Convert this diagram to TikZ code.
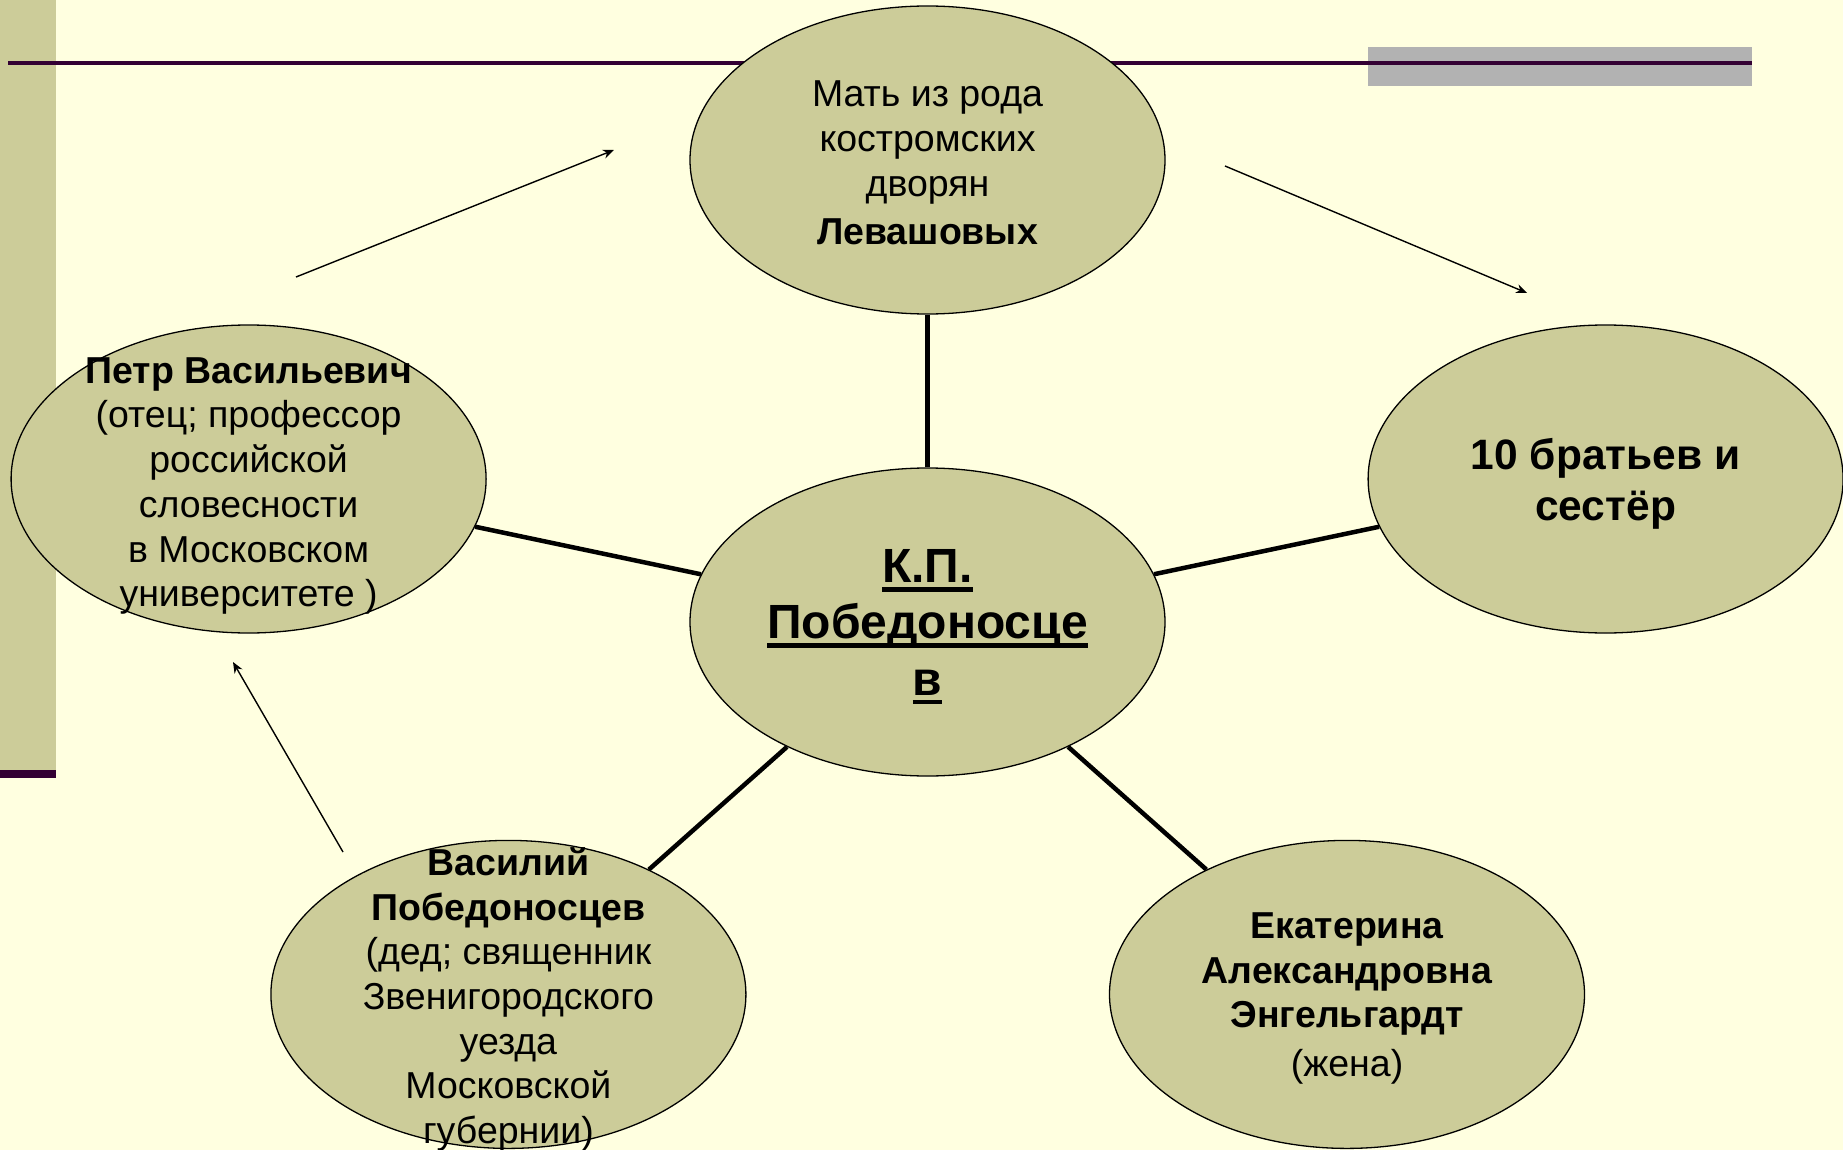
\documentclass[tikz,border=0pt]{standalone}
\usepackage{fontspec}
\setmainfont{Liberation Sans}
\usetikzlibrary{shapes.geometric,arrows.meta}
\definecolor{bgc}{RGB}{255,255,224}
\definecolor{olive}{RGB}{204,204,153}
\definecolor{plum}{RGB}{51,0,51}
\definecolor{greybar}{RGB}{178,178,178}
\newsavebox\ulbox
\newcommand\myul[1]{\sbox\ulbox{#1}\rlap{\rule[-0.19em]{\wd\ulbox}{0.1em}}\usebox\ulbox}
\tikzset{
 ell/.style={ellipse, draw=black, line width=1.3pt, fill=olive, minimum width=475pt, minimum height=308pt, inner sep=0pt},
 conn/.style={line width=4.5pt, black},
 arr/.style={line width=1.4pt, -{Stealth[length=11pt,width=9pt]}},
 txt/.style={align=center, font=\fontsize{37.5}{44.7}\selectfont, inner sep=0pt},
}
\begin{document}
\begin{tikzpicture}[x=1pt,y=-1pt]
\useasboundingbox (0,0) rectangle (1843,1150);
\fill[bgc] (0,0) rectangle (1843,1150);
% decorations
\fill[olive] (0,0) rectangle (56,770);
\fill[plum] (0,770) rectangle (56,778);
\fill[greybar] (1368,47) rectangle (1752,86);
\fill[plum] (8,61) rectangle (1752,65);
% ellipses
\node[ell] (top) at (927.5,160) {};
\node[ell] (ctr) at (927.5,622) {};
\node[ell] (lft) at (248.6,479) {};
\node[ell] (rgt) at (1605.6,479) {};
\node[ell] (bl) at (508.4,994.4) {};
\node[ell] (br) at (1347,994.4) {};
% connectors
\draw[conn] (ctr) -- (top);
\draw[conn] (ctr) -- (lft);
\draw[conn] (ctr) -- (rgt);
\draw[conn] (ctr) -- (bl);
\draw[conn] (ctr) -- (br);
% arrows
\coordinate (a1s) at (296,277);
\coordinate (a1e) at (614,150);
\coordinate (a2s) at (1225,166);
\coordinate (a2e) at (1527,293);
\coordinate (a3s) at (343,852);
\coordinate (a3e) at (233,662);
\draw[arr] (a1s) -- (a1e);
\draw[arr] (a2s) -- (a2e);
\draw[arr] (a3s) -- (a3e);
% texts
\node[txt] (ttop) at ([yshift=-3pt]top.center) {Мать из рода\\костромских\\дворян\\[4pt]\textbf{Левашовых}};
\node[txt] (tlft) at ([yshift=-7pt]lft.center) {\textbf{Петр Васильевич}\\(отец; профессор\\российской\\словесности\\в Московском\\университете )};
\node[txt, font=\fontsize{42.5}{50.5}\selectfont\bfseries] (trgt) at ([yshift=-5pt]rgt.center) {10 братьев и\\сестёр};
\node[txt, font=\fontsize{48}{56.4}\selectfont\bfseries] (tctr) at ([yshift=-5pt]ctr.center) {\myul{К.П.}\\\myul{Победоносце}\\\myul{в}};
\node[txt] (tbl) at ([yshift=-5pt]bl.center) {\textbf{Василий}\\\textbf{Победоносцев}\\(дед; священник\\Звенигородского\\уезда\\Московской\\губернии)};
\node[txt] (tbr) at ([yshift=-4pt]br.center) {\textbf{Екатерина}\\\textbf{Александровна}\\\textbf{Энгельгардт}\\[4pt](жена)};
\end{tikzpicture}
\end{document}
